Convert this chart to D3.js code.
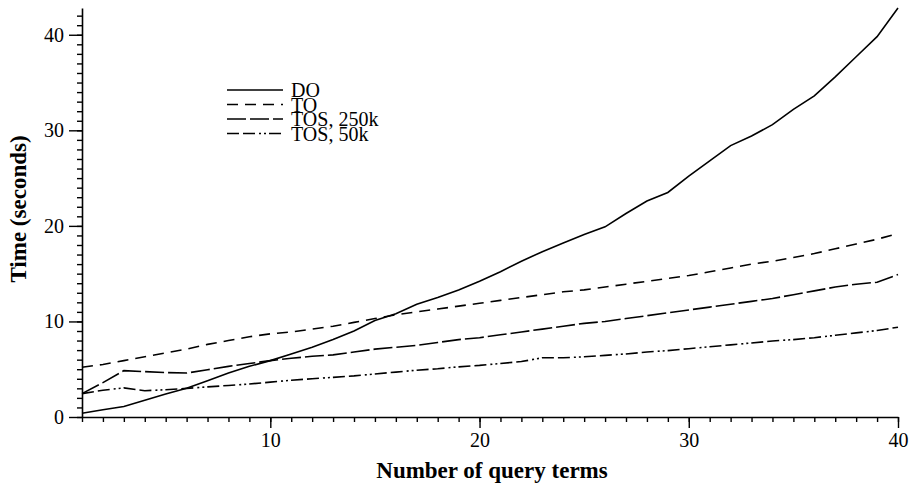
<!DOCTYPE html>
<html>
<head>
<meta charset="utf-8">
<script src="https://cdn.jsdelivr.net/npm/d3@7"></script>
<style>
  body { margin: 0; background: #fff; }
  svg text { font-family: "Times New Roman", Times, "Liberation Serif", serif; }
</style>
</head>
<body>
<script>
const terms = d3.range(1, 41)

const series = ["DO", "TO", "TOS, 250k", "TOS, 50k"]

const doTimes = [0.4, 0.75, 1.1, 1.75, 2.4, 3.0, 3.8, 4.6, 5.3, 5.9,
  6.6, 7.3, 8.1, 9.0, 10.1, 10.8, 11.8, 12.5, 13.3, 14.2,
  15.2, 16.3, 17.3, 18.2, 19.1, 19.9, 21.3, 22.6, 23.5, 25.2,
  26.8, 28.4, 29.4, 30.6, 32.2, 33.6, 35.6, 37.7, 39.8, 42.8]

const toTimes = [5.2, 5.5, 5.9, 6.3, 6.7, 7.1, 7.6, 8.0, 8.4, 8.7,
  8.9, 9.2, 9.5, 9.9, 10.3, 10.7, 11.0, 11.3, 11.6, 11.9,
  12.2, 12.5, 12.8, 13.1, 13.3, 13.6, 13.9, 14.2, 14.5, 14.8,
  15.2, 15.6, 16.0, 16.3, 16.7, 17.1, 17.6, 18.1, 18.6, 19.2]

const tos250Times = [2.45, 3.6, 4.85, 4.75, 4.65, 4.6, 4.95, 5.3, 5.6, 5.9,
  6.15, 6.35, 6.5, 6.8, 7.1, 7.3, 7.5, 7.8, 8.1, 8.3,
  8.6, 8.9, 9.2, 9.5, 9.8, 10.0, 10.3, 10.6, 10.9, 11.2,
  11.5, 11.8, 12.1, 12.4, 12.8, 13.2, 13.6, 13.9, 14.1, 14.9]

const tos50Times = [2.45, 2.8, 3.05, 2.75, 2.85, 3.0, 3.15, 3.3, 3.45, 3.65,
  3.85, 4.0, 4.15, 4.3, 4.5, 4.7, 4.9, 5.05, 5.25, 5.4,
  5.6, 5.8, 6.2, 6.2, 6.3, 6.45, 6.6, 6.8, 6.95, 7.15,
  7.35, 7.55, 7.75, 7.95, 8.1, 8.3, 8.55, 8.8, 9.05, 9.4]

const xMajor = [10, 20, 30, 40]
const yMajor = [0, 10, 20, 30, 40]

const width = 910
const height = 483

const dashes = [null, "11,7", "19,4", "12,4,12,4,2,3,2,3"]
const values = [doTimes, toTimes, tos250Times, tos50Times]

const x = d3.scaleLinear().domain([1, 40]).range([82, 898])
const y = d3.scaleLinear().domain([0, 42.8]).range([417, 8])

const svg = d3.select("body").append("svg")
  .attr("width", width)
  .attr("height", height)
  .style("display", "block")

// minor ticks
svg.append("g")
  .attr("transform", `translate(0,${y(0)})`)
  .call(d3.axisBottom(x).tickValues(terms).tickSize(5).tickFormat(""))
  .call(g => g.select(".domain").remove())

svg.append("g")
  .attr("transform", `translate(${x(1)},0)`)
  .call(d3.axisLeft(y).tickValues(d3.range(0, 43)).tickSize(5).tickFormat(""))
  .call(g => g.select(".domain").remove())

// major ticks + axis lines
svg.append("g")
  .attr("transform", `translate(0,${y(0)})`)
  .call(d3.axisBottom(x).tickValues(xMajor).tickSize(11).tickSizeOuter(0).tickPadding(5))

svg.append("g")
  .attr("transform", `translate(${x(1)},0)`)
  .call(d3.axisLeft(y).tickValues(yMajor).tickSize(13).tickSizeOuter(0).tickPadding(5))

svg.selectAll(".tick line").attr("stroke", "#000").attr("stroke-width", 1.4)
svg.selectAll(".domain").attr("stroke", "#000").attr("stroke-width", 1.6)
svg.selectAll(".tick text")
  .attr("font-size", 20)
  .attr("fill", "#000")

svg.append("text")
  .attr("x", 492)
  .attr("y", 478)
  .attr("text-anchor", "middle")
  .attr("font-size", 23)
  .attr("font-weight", "bold")
  .text("Number of query terms")

svg.append("text")
  .attr("transform", "translate(26,209) rotate(-90)")
  .attr("text-anchor", "middle")
  .attr("font-size", 23)
  .attr("font-weight", "bold")
  .text("Time (seconds)")

const line = d3.line()
  .x((d, i) => x(terms[i]))
  .y(d => y(d))

svg.append("g")
  .selectAll("path")
  .data(values)
  .join("path")
  .attr("fill", "none")
  .attr("stroke", "#000")
  .attr("stroke-width", 1.6)
  .attr("stroke-dasharray", (d, i) => dashes[i])
  .attr("d", line)

const legend = svg.append("g")
  .selectAll("g")
  .data(series)
  .join("g")
  .attr("transform", (d, i) => `translate(227,${90 + i * 14.5})`)

legend.append("line")
  .attr("x1", 0)
  .attr("x2", 56)
  .attr("stroke", "#000")
  .attr("stroke-width", 1.6)
  .attr("stroke-dasharray", (d, i) => dashes[i])

legend.append("text")
  .attr("x", 64)
  .attr("dy", "0.35em")
  .attr("font-size", 20)
  .text(d => d)
</script>
</body>
</html>
